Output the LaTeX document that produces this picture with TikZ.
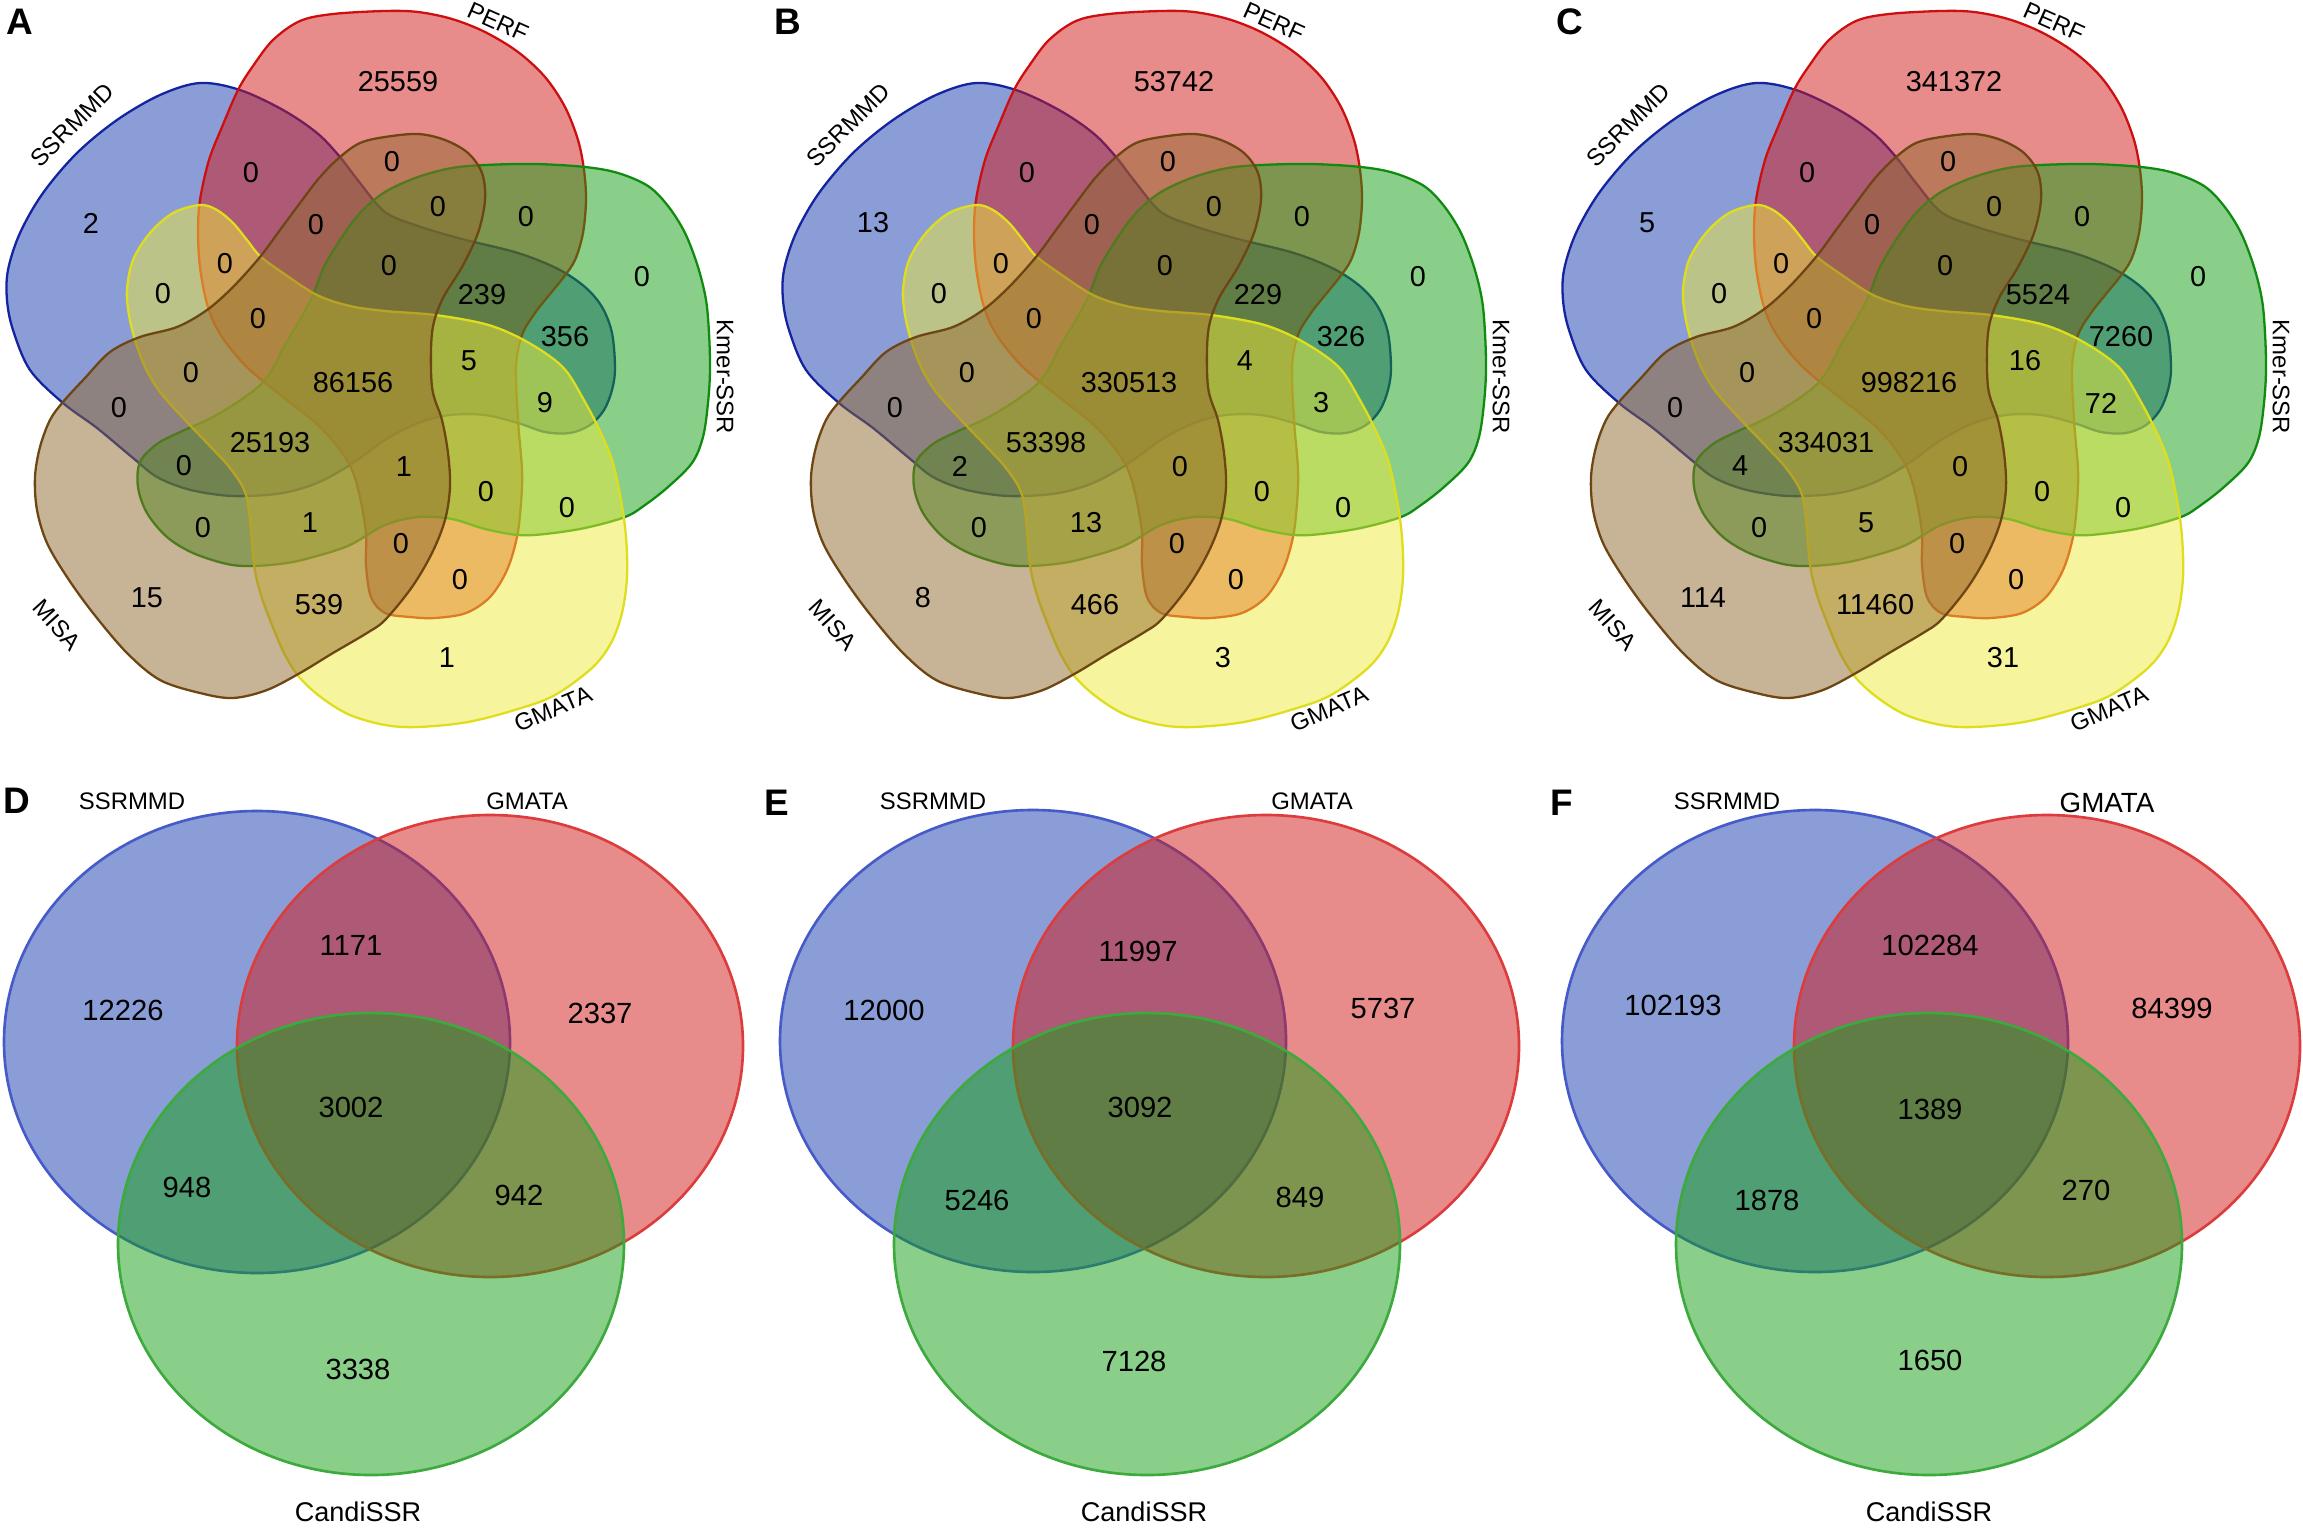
\documentclass[tikz,border=0pt]{standalone}
\usepackage{fontspec}
\setmainfont{Liberation Sans}
\definecolor{cB}{RGB}{25,60,175}
\definecolor{cR}{RGB}{210,25,25}
\definecolor{cG}{RGB}{20,160,20}
\definecolor{cY}{RGB}{238,234,60}
\definecolor{cN}{RGB}{145,105,45}
\definecolor{lB}{RGB}{20,35,160}
\definecolor{lR}{RGB}{205,15,15}
\definecolor{lG}{RGB}{15,140,15}
\definecolor{lY}{RGB}{222,222,30}
\definecolor{lN}{RGB}{110,70,20}
\definecolor{mB}{RGB}{70,90,200}
\definecolor{mR}{RGB}{220,60,60}
\definecolor{mG}{RGB}{60,170,60}
\newcommand\fiveshapes{%
 \draw[setshape, fill=cB, draw=lB] plot[smooth cycle, tension=0.55] coordinates {
 (200,83) (240,90) (283,110) (317,133) (340,157) (360,183) (385,212) (418,226) (462,239) (518,253) (558,269) (585,287) (602,307) (612,333) (615,368) (612,390) (604,410) (590,425) (570,433) (545,432) (518,423) (485,415) (450,415) (418,423) (385,440) (350,465) (317,483) (283,493) (247,496) (220,495) (187,489) (157,477) (133,458) (97,428) (63,403) (30,370) (13,330) (7,300) (8,270) (20,233) (43,193) (77,153) (117,120) (160,95)};
 \draw[setshape, fill=cR, draw=lR] plot[smooth cycle, tension=0.55] coordinates {
 (385,11) (418,12) (452,19) (485,32) (518,52) (545,77) (565,107) (578,140) (584,170) (586,200) (583,233) (575,260) (563,278) (550,294) (535,313) (522,335) (516,367) (518,420) (522,470) (521,503) (517,537) (507,570) (490,597) (466,613) (435,618) (410,617) (385,613) (371,597) (366,565) (366,533) (360,497) (352,470) (338,447) (316,423) (283,397) (250,370) (230,348) (215,325) (206,300) (200,267) (198,233) (200,200) (209,160) (222,127) (238,90) (253,66) (273,40) (300,21) (333,14)};
 \draw[setshape, fill=cG, draw=lG] plot[smooth cycle, tension=0.55] coordinates {
 (385,192) (418,177) (452,168) (485,165) (535,164) (585,167) (618,173) (648,186) (668,206) (685,233) (698,267) (706,300) (709,333) (710,370) (708,403) (703,437) (692,463) (668,487) (645,505) (625,517) (585,528) (545,534) (518,535) (485,529) (452,519) (418,517) (385,525) (350,545) (317,556) (287,563) (253,566) (227,564) (193,553) (167,537) (147,513) (138,487) (140,462) (157,444) (180,432) (207,420) (233,405) (258,387) (272,370) (285,345) (300,320) (313,295) (324,267) (340,240) (360,213)};
 \draw[setshape, fill=cY, draw=lY] plot[smooth cycle, tension=0.55] coordinates {
 (200,205) (217,210) (233,223) (247,240) (260,256) (283,273) (317,295) (350,306) (385,311) (435,315) (485,324) (518,337) (548,355) (567,372) (585,402) (598,427) (612,460) (621,500) (626,537) (627,577) (622,613) (611,643) (592,668) (555,695) (518,709) (468,722) (418,727) (385,725) (350,715) (322,698) (300,678) (285,655) (272,625) (261,595) (254,565) (250,520) (245,492) (230,468) (207,443) (185,420) (160,392) (145,367) (135,340) (129,315) (127,290) (133,260) (150,233) (173,213)};
 \draw[setshape, fill=cN, draw=lN] plot[smooth cycle, tension=0.55] coordinates {
 (385,137) (418,134) (445,140) (468,153) (482,173) (485,200) (478,233) (462,267) (442,300) (432,333) (432,387) (442,420) (448,453) (450,487) (445,520) (432,553) (412,587) (385,620) (367,633) (333,653) (300,673) (267,690) (233,698) (200,693) (160,680) (127,653) (93,613) (67,577) (47,543) (37,510) (35,477) (40,447) (50,420) (63,402) (85,378) (110,352) (140,337) (177,327) (207,310) (233,287) (260,257) (280,230) (300,203) (320,177) (340,157) (360,143)};
}
\newcommand\fivesetlabels[1]{%
 \node[setlab, rotate=45] (#1ss) at (72,125) {SSRMMD};
 \node[setlab, rotate=-24] (#1pf) at (498,22) {PERF};
 \node[setlab, rotate=-90] (#1km) at (725,377) {Kmer-SSR};
 \node[setlab, rotate=23] (#1gm) at (553,709) {GMATA};
 \node[setlab, rotate=-48] (#1mi) at (57,625) {MISA};
}
\begin{document}
\begin{tikzpicture}[x=0.01cm,y=-0.01cm,
  setshape/.style={fill opacity=0.5, draw opacity=1, line width=0.65pt},
  ellshape/.style={fill opacity=0.5, draw opacity=1, line width=0.75pt},
  num/.style={font=\fontsize{8.2}{9}\selectfont, inner sep=0pt},
  bnum/.style={font=\fontsize{8.3}{9}\selectfont, inner sep=0pt},
  setlab/.style={font=\fontsize{6.8}{8}\selectfont, inner sep=0pt},
  panel/.style={font=\fontsize{10.5}{12}\selectfont\bfseries, inner sep=0pt}]
\useasboundingbox (0,0) rectangle (2303,1533);
\fill[white] (0,0) rectangle (2303,1533);

% ---------- Panel A ----------
\begin{scope}[shift={(0,0)}]
\fiveshapes
\fivesetlabels{A}
\foreach \x/\y/\t [count=\k] in {398/82/25559, 91/223/2, 251/173/0, 392/162/0, 316/225/0, 438/207/0, 526/217/0, 642/277/0, 225/264/0, 389/266/0, 163/294/0, 482/295/239, 258/319/0, 565/337/356, 191/373/0, 353/383/86156, 469/361/5, 119/408/0, 545/403/9, 270/443/25193, 184/466/0, 404/467/1, 486/492/0, 567/508/0, 203/528/0, 310/523/1, 401/544/0, 460/580/0, 147/598/15, 319/605/539, 447/658/1}
  \node[num] (An\k) at (\x,\y) {\t};
\end{scope}
\node[panel] (pA) at (20,22) {A};

% ---------- Panel B ----------
\begin{scope}[shift={(776,0)}]
\fiveshapes
\fivesetlabels{B}
\foreach \x/\y/\t [count=\k] in {398/82/53742, 97/223/13, 251/173/0, 392/162/0, 316/225/0, 438/207/0, 526/217/0, 642/277/0, 225/264/0, 389/266/0, 163/294/0, 482/295/229, 258/319/0, 565/337/326, 191/373/0, 353/383/330513, 469/361/4, 119/408/0, 545/403/3, 270/443/53398, 184/466/2, 404/467/0, 486/492/0, 567/508/0, 203/528/0, 310/523/13, 401/544/0, 460/580/0, 147/598/8, 319/605/466, 447/658/3}
  \node[num] (Bn\k) at (\x,\y) {\t};
\end{scope}
\node[panel] (pB) at (788,22) {B};

% ---------- Panel C ----------
\begin{scope}[shift={(1556,0)}]
\fiveshapes
\fivesetlabels{C}
\foreach \x/\y/\t [count=\k] in {398/82/341372, 91/223/5, 251/173/0, 392/162/0, 316/225/0, 438/207/0, 526/217/0, 642/277/0, 225/264/0, 389/266/0, 163/294/0, 482/295/5524, 258/319/0, 565/337/7260, 191/373/0, 353/383/998216, 469/361/16, 119/408/0, 545/403/72, 270/443/334031, 184/466/4, 404/467/0, 486/492/0, 567/508/0, 203/528/0, 310/523/5, 401/544/0, 460/580/0, 147/598/114, 319/605/11460, 447/658/31}
  \node[num] (Cn\k) at (\x,\y) {\t};
\end{scope}
\node[panel] (pC) at (1570,22) {C};

% ---------- Panel D ----------
\draw[ellshape, fill=cB, draw=mB] (257,1042) ellipse [x radius=253, y radius=231];
\draw[ellshape, fill=cR, draw=mR] (490,1046) ellipse [x radius=253, y radius=231];
\draw[ellshape, fill=cG, draw=mG] (371,1244) ellipse [x radius=253, y radius=231];
\node[panel] (pD) at (17,801) {D};
\node[setlab] (Dss) at (132,801) {SSRMMD};
\node[setlab] (Dgm) at (527,801) {GMATA};
\node[font=\fontsize{7.7}{9}\selectfont, inner sep=0pt] (Dcs) at (358,1512) {CandiSSR};
\node[bnum] (Dn1) at (351,945) {1171};
\node[bnum] (Dn2) at (123,1010) {12226};
\node[bnum] (Dn3) at (600,1013) {2337};
\node[bnum] (Dn4) at (351,1107) {3002};
\node[bnum] (Dn5) at (187,1187) {948};
\node[bnum] (Dn6) at (519,1195) {942};
\node[bnum] (Dn7) at (358,1369) {3338};

% ---------- Panel E ----------
\draw[ellshape, fill=cB, draw=mB] (1033,1041) ellipse [x radius=253, y radius=231];
\draw[ellshape, fill=cR, draw=mR] (1266,1046) ellipse [x radius=253, y radius=231];
\draw[ellshape, fill=cG, draw=mG] (1147,1244) ellipse [x radius=253, y radius=231];
\node[panel] (pE) at (777,803) {E};
\node[setlab] (Ess) at (933,801) {SSRMMD};
\node[setlab] (Egm) at (1312,801) {GMATA};
\node[font=\fontsize{7.7}{9}\selectfont, inner sep=0pt] (Ecs) at (1144,1512) {CandiSSR};
\node[bnum] (En1) at (1138,951) {11997};
\node[bnum] (En2) at (884,1010) {12000};
\node[bnum] (En3) at (1383,1008) {5737};
\node[bnum] (En4) at (1140,1107) {3092};
\node[bnum] (En5) at (977,1200) {5246};
\node[bnum] (En6) at (1300,1197) {849};
\node[bnum] (En7) at (1134,1361) {7128};

% ---------- Panel F ----------
\draw[ellshape, fill=cB, draw=mB] (1815,1041) ellipse [x radius=253, y radius=231];
\draw[ellshape, fill=cR, draw=mR] (2047,1046) ellipse [x radius=253, y radius=231];
\draw[ellshape, fill=cG, draw=mG] (1929,1244) ellipse [x radius=253, y radius=231];
\node[panel] (pF) at (1562,803) {F};
\node[setlab] (Fss) at (1727,801) {SSRMMD};
\node[font=\fontsize{7.9}{9}\selectfont, inner sep=0pt] (Fgm) at (2107,803) {GMATA};
\node[font=\fontsize{7.7}{9}\selectfont, inner sep=0pt] (Fcs) at (1929,1512) {CandiSSR};
\node[bnum] (Fn1) at (1930,945) {102284};
\node[bnum] (Fn2) at (1673,1005) {102193};
\node[bnum] (Fn3) at (2172,1008) {84399};
\node[bnum] (Fn4) at (1930,1109) {1389};
\node[bnum] (Fn5) at (1767,1200) {1878};
\node[bnum] (Fn6) at (2086,1190) {270};
\node[bnum] (Fn7) at (1930,1360) {1650};
\end{tikzpicture}
\end{document}
